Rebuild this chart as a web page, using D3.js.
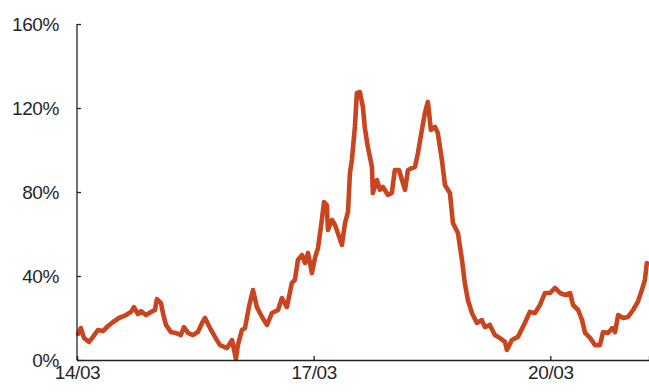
<!DOCTYPE html>
<html><head><meta charset="utf-8">
<script src="https://cdn.jsdelivr.net/npm/d3@7"></script>
<style>html,body{margin:0;padding:0;background:#fff;}svg{display:block;}</style>
</head><body>
<svg id="c" width="649" height="392"></svg>
<script>
const dates = ["2014-03-06","2014-03-19","2014-04-02","2014-04-26","2014-05-14","2014-06-06","2014-06-29","2014-07-23","2014-08-15","2014-09-11","2014-10-14","2014-11-06","2014-11-20","2014-12-08","2014-12-22","2015-01-14","2015-02-07","2015-02-25","2015-03-06","2015-03-25","2015-04-03","2015-04-17","2015-05-10","2015-06-02","2015-06-25","2015-07-09","2015-07-28","2015-08-20","2015-09-12","2015-10-01","2015-10-15","2015-11-07","2015-11-30","2015-12-23","2016-01-25","2016-02-17","2016-03-06","2016-03-15","2016-04-03","2016-04-17","2016-05-05","2016-05-24","2016-06-11","2016-07-05","2016-07-28","2016-08-20","2016-09-17","2016-10-05","2016-10-28","2016-11-20","2016-12-04","2016-12-18","2017-01-06","2017-01-20","2017-02-03","2017-02-21","2017-03-07","2017-03-21","2017-04-08","2017-04-18","2017-05-01","2017-05-06","2017-05-25","2017-06-08","2017-06-21","2017-07-10","2017-07-24","2017-08-07","2017-08-16","2017-08-25","2017-09-08","2017-09-17","2017-10-01","2017-10-15","2017-10-24","2017-11-07","2017-11-26","2017-11-30","2017-12-19","2018-01-02","2018-01-16","2018-02-08","2018-02-26","2018-03-12","2018-03-31","2018-04-14","2018-04-28","2018-05-12","2018-05-30","2018-06-13","2018-06-27","2018-07-15","2018-07-29","2018-08-12","2018-08-26","2018-09-14","2018-09-27","2018-10-16","2018-10-30","2018-11-22","2018-12-06","2018-12-29","2019-01-17","2019-01-30","2019-02-13","2019-03-04","2019-03-27","2019-04-19","2019-05-03","2019-05-26","2019-06-18","2019-07-11","2019-08-04","2019-08-13","2019-09-05","2019-10-03","2019-11-04","2019-11-27","2019-12-21","2020-01-13","2020-02-05","2020-02-29","2020-03-23","2020-04-15","2020-05-08","2020-06-01","2020-06-14","2020-07-08","2020-07-26","2020-08-09","2020-09-01","2020-09-24","2020-10-17","2020-10-31","2020-11-24","2020-12-12","2020-12-26","2021-01-09","2021-02-01","2021-02-24","2021-03-19","2021-04-10","2021-04-29","2021-05-13","2021-05-22"];
const values = [12.4,15.2,10.5,8.6,11.0,14.3,13.8,16.2,18.1,20.0,21.4,22.9,25.2,21.9,23.3,21.4,22.9,23.8,29.0,27.1,22.4,16.7,13.3,12.9,11.9,15.7,12.9,11.9,13.3,17.6,20.0,15.2,11.0,7.1,5.7,9.5,0.5,7.1,14.3,15.2,25.2,33.3,25.2,20.5,16.7,22.4,23.8,29.5,25.2,36.7,38.1,47.6,50.0,46.2,51.0,41.4,48.6,53.3,66.7,75.2,73.8,61.9,66.7,64.3,60.5,54.8,65.2,70.5,89.0,95.2,111.0,127.1,127.6,120.5,110.5,101.4,91.9,79.5,85.7,81.0,82.4,78.6,79.5,90.5,90.5,85.7,81.0,90.5,91.4,91.9,98.6,109.5,117.6,122.9,109.5,111.0,108.1,95.2,83.3,79.5,65.2,60.5,47.6,36.7,28.6,22.4,17.6,19.0,15.7,16.7,11.9,10.5,8.6,4.8,9.5,11.0,17.6,22.9,22.4,26.2,31.9,31.9,34.3,31.9,31.0,31.9,26.2,23.8,19.0,12.9,10.5,7.1,7.1,13.3,12.9,15.2,13.3,21.4,20.0,20.5,23.8,27.6,33.3,38.1,46.2];
const xTickDates = ["2014-03-01","2017-03-01","2020-03-01"];
const xTickLabels = ["14/03","17/03","20/03"];
const yTicks = [0, 40, 80, 120, 160];
const yTickLabels = ["0%","40%","80%","120%","160%"];

const parse = d3.timeParse("%Y-%m-%d");
const data = dates.map((d,i)=>({date: parse(d), value: values[i]}));

const svg = d3.select("#c");
const mLeft = 77, mRight = 649, mTop = 24, mBottom = 360;
const x = d3.scaleTime().domain([parse("2014-03-01"), parse("2021-06-01")]).range([mLeft, mRight]);
const y = d3.scaleLinear().domain([0, 160]).range([mBottom, mTop]);

const font = "'Liberation Sans', Arial, sans-serif";

const line = d3.line().x(d=>x(d.date)).y(d=>y(d.value));
svg.append("path").datum(data)
  .attr("fill","none").attr("stroke","#C8451F").attr("stroke-width",4.6)
  .attr("stroke-linejoin","round").attr("stroke-linecap","round")
  .attr("d", line);

const yAxis = d3.axisLeft(y).tickValues(yTicks).tickSize(-4).tickPadding(18)
  .tickFormat((d,i)=>yTickLabels[i]);
const gy = svg.append("g").attr("transform",`translate(${mLeft},0)`).call(yAxis);
gy.select(".domain").attr("d", `M0,${mTop}V${mBottom}`);

const xAxis = d3.axisBottom(x).tickValues(xTickDates.map(parse)).tickSize(-4).tickPadding(6)
  .tickFormat((d,i)=>xTickLabels[i]);
const gx = svg.append("g").attr("transform",`translate(0,${mBottom})`).call(xAxis);

[gx, gy].forEach(g=>{
  g.select(".domain").attr("stroke","#222").attr("stroke-width",1.3);
  g.selectAll(".tick line").attr("stroke","#222").attr("stroke-width",1.3);
  g.selectAll("text").attr("fill","#262626").style("font-family",font).style("font-size","19px").style("letter-spacing","-0.4px");
});
</script>
</body></html>
